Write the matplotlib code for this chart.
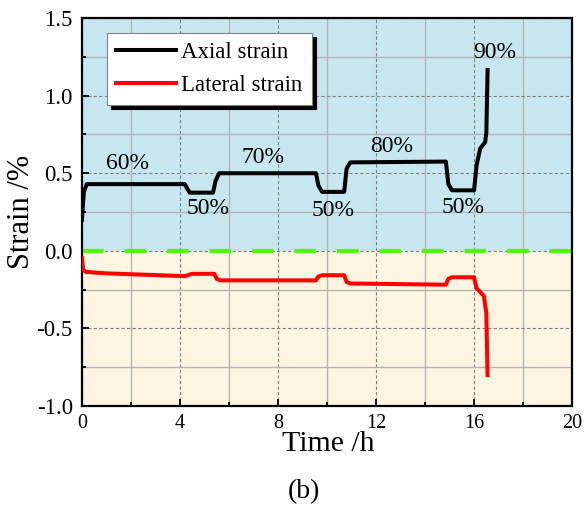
import matplotlib.pyplot as plt
from matplotlib.ticker import MultipleLocator

plt.rcParams['font.family'] = ['Liberation Serif', 'DejaVu Serif']
plt.rcParams['axes.unicode_minus'] = False

# axial strain curve (time in h, strain in %)
axial_t = [0, 0.08, 0.2, 1, 4.2, 4.3, 4.4, 5.35, 5.45, 5.6, 9.55, 9.65, 9.8,
           10.7, 10.8, 10.95, 14.85, 14.95, 15.1, 16.0, 16.1, 16.25, 16.45,
           16.5, 16.55]
axial_v = [0.20, 0.38, 0.43, 0.43, 0.43, 0.40, 0.375, 0.375, 0.45, 0.50,
           0.50, 0.42, 0.38, 0.38, 0.53, 0.57, 0.575, 0.43, 0.39, 0.39, 0.55,
           0.66, 0.70, 0.76, 1.165]

# lateral strain curve
lateral_t = [0, 0.05, 0.15, 1, 4.2, 4.35, 4.5, 5.4, 5.5, 5.65, 9.55, 9.65,
             9.8, 10.7, 10.8, 10.95, 14.85, 14.95, 15.1, 16.0, 16.1, 16.25,
             16.4, 16.5, 16.55]
lateral_v = [-0.045, -0.12, -0.135, -0.145, -0.163, -0.155, -0.148, -0.148,
             -0.18, -0.19, -0.19, -0.165, -0.157, -0.157, -0.2, -0.21, -0.218,
             -0.18, -0.17, -0.17, -0.24, -0.265, -0.29, -0.40, -0.80]

# stress level labels
level_text = ['60%', '50%', '70%', '50%', '80%', '50%', '90%']
level_x = [1.88, 5.14, 7.4, 10.25, 12.65, 15.55, 16.86]
level_y = [0.565, 0.275, 0.60, 0.257, 0.675, 0.28, 1.28]

fig = plt.figure(figsize=(5.85, 5.07), dpi=100)
ax = fig.add_axes([0.140, 0.199, 0.838, 0.7655])

ax.axhspan(0, 1.5, color='#c6e7ef', zorder=0, lw=0)
ax.axhspan(-1.0, 0, color='#fdf5e1', zorder=0, lw=0)

ax.plot(axial_t, axial_v, color='black', lw=2.9, label='Axial strain', zorder=3)
ax.plot(lateral_t, lateral_v, color='#ff0000', lw=2.9, label='Lateral strain', zorder=3)
ax.plot([0, 20], [0, 0], color='#4cff00', lw=3, linestyle=(0, (5.2, 5.0)), zorder=2.5)

for txt, x, y in zip(level_text, level_x, level_y):
    ax.text(x, y, txt, ha='center', va='center', fontsize=17)

ax.set_xlim(0, 20)
ax.set_ylim(-1.0, 1.5)
ax.xaxis.set_major_locator(MultipleLocator(4))
ax.xaxis.set_minor_locator(MultipleLocator(2))
ax.yaxis.set_major_locator(MultipleLocator(0.5))
ax.yaxis.set_minor_locator(MultipleLocator(0.25))

ax.set_axisbelow(True)
ax.grid(which='major', color='#808080', linestyle=(0, (3, 2)), lw=0.8)
ax.grid(which='minor', color='#b4b4b4', linestyle='-', lw=1.0)

ax.tick_params(which='both', direction='in', width=1.3)
ax.tick_params(axis='x', labelsize=14.5, pad=6)
ax.tick_params(axis='y', labelsize=16.5, pad=6.5)
ax.tick_params(which='major', length=5)
ax.tick_params(which='minor', length=3)
for sp in ax.spines.values():
    sp.set_linewidth(1.6)

ax.set_xlabel('Time /h', fontsize=21.5)
ax.set_ylabel('Strain /%', fontsize=22)
ax.xaxis.set_label_coords(0.502, -0.064)
ax.yaxis.set_label_coords(-0.094, 0.5)

leg = ax.legend(loc='upper left', bbox_to_anchor=(0.051, 0.961), borderaxespad=0,
                fontsize=16.5, handlelength=2.6, handletextpad=0.25, fancybox=False,
                edgecolor='#808080', framealpha=1,
                shadow={'color': 'black', 'alpha': 1, 'ox': 3, 'oy': -3})
leg.get_frame().set_linewidth(0.8)

fig.text(0.52, 0.031, '(b)', ha='center', va='center', fontsize=20)

fig.savefig('out.png', dpi=100)
